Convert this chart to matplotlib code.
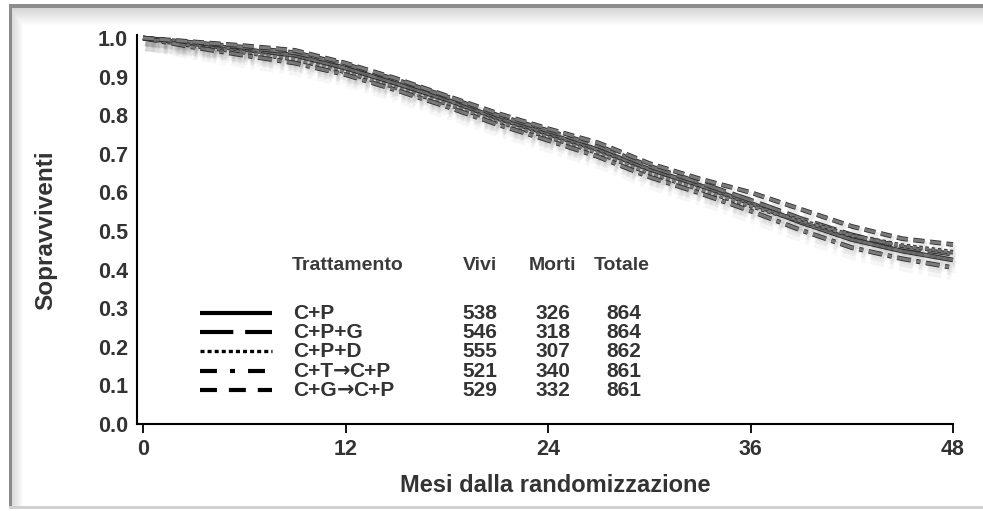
import numpy as np
import matplotlib
matplotlib.use("Agg")
import matplotlib.pyplot as plt
import matplotlib.patheffects as pe
from matplotlib.lines import Line2D

# ---------------- data ----------------
months = [0, 3, 6, 9, 12, 15, 18, 21, 24, 27, 30, 33, 36, 39, 42, 45, 48]
surv_cp   = [1.0, 0.985, 0.970, 0.955, 0.922, 0.882, 0.840, 0.792, 0.752, 0.710, 0.660, 0.618, 0.572, 0.522, 0.478, 0.448, 0.425]
surv_cpg  = [1.0, 0.988, 0.976, 0.962, 0.932, 0.892, 0.848, 0.800, 0.760, 0.720, 0.668, 0.625, 0.580, 0.532, 0.490, 0.458, 0.440]
surv_cpd  = [1.0, 0.980, 0.963, 0.945, 0.912, 0.872, 0.830, 0.784, 0.744, 0.702, 0.650, 0.608, 0.565, 0.526, 0.488, 0.462, 0.445]
surv_ctcp = [1.0, 0.976, 0.955, 0.935, 0.905, 0.865, 0.822, 0.776, 0.735, 0.692, 0.640, 0.598, 0.552, 0.502, 0.457, 0.428, 0.405]
surv_cgcp = [1.0, 0.990, 0.980, 0.968, 0.935, 0.895, 0.850, 0.805, 0.765, 0.728, 0.675, 0.635, 0.600, 0.556, 0.512, 0.480, 0.465]

treatments = [("C+P",), ("C+P+G",), ("C+P+D",), ("C+T", "\u2192", "C+P"), ("C+G", "\u2192", "C+P")]
vivi   = [538, 546, 555, 521, 529]
morti  = [326, 318, 307, 340, 332]
totale = [864, 864, 862, 861, 861]
header = ["Trattamento", "Vivi", "Morti", "Totale"]

xticks = [0, 12, 24, 36, 48]
yticks = [0.0, 0.1, 0.2, 0.3, 0.4, 0.5, 0.6, 0.7, 0.8, 0.9, 1.0]
xlabel = "Mesi dalla randomizzazione"
ylabel = "Sopravviventi"

# ---------------- style ----------------
plt.rcParams["lines.scale_dashes"] = False
W, H = 983, 511
fig = plt.figure(figsize=(W / 100, H / 100), dpi=100)
fig.patch.set_facecolor("white")

TXT = "#333333"
SANS = ["Liberation Sans", "DejaVu Sans"]

# frame background (border + soft inner shade)
bg = np.ones((H, W, 3))
for i in range(18):
    v = 0.84 + 0.16 * (i / 17.0)
    bg[8 + i, 12:, :] = np.minimum(bg[8 + i, 12:, :], v)
for i in range(12):
    v = 0.86 + 0.14 * (i / 11.0)
    bg[8:507, 12 + i, :] = np.minimum(bg[8:507, 12 + i, :], v)
bg[4:8, 9:, :] = 0.55
bg[4:508, 9:12, :] = 0.55
bg[506:509, 9:, :] = 0.82
fig.figimage(bg, xo=0, yo=0, origin="upper", zorder=-10)

def px(x, y):
    return x / W, 1 - y / H

# ---------------- axes ----------------
x0, x1 = 137, 953
y_top, y_bot = 35, 424
ax = fig.add_axes([x0 / W, (H - y_bot) / H, (x1 - x0) / W, (y_bot - y_top) / H])
ax.set_zorder(2)
ax.patch.set_visible(False)
ax.set_xlim(-0.356, 48)
ax.set_ylim(0, 1.0078)
for s in ["top", "right"]:
    ax.spines[s].set_visible(False)
for s in ["left", "bottom"]:
    ax.spines[s].set_linewidth(1.5)
    ax.spines[s].set_color("black")

ax.set_xticks(xticks)
ax.set_xticklabels([str(t) for t in xticks])
ax.set_yticks(yticks)
ax.set_yticklabels([f"{t:.1f}" for t in yticks])
ax.tick_params(axis="x", direction="out", length=6.5, width=1.3, pad=4,
               colors="black", labelcolor=TXT)
ax.tick_params(axis="y", length=0, pad=6.5, labelcolor=TXT)
for lab in ax.get_xticklabels() + ax.get_yticklabels():
    lab.set_family(SANS)
    lab.set_fontweight("bold")
    lab.set_fontsize(15.5)

series = [surv_cp, surv_cpg, surv_cpd, surv_ctcp, surv_cgcp]
curve_styles = ["-", (0, (16, 5)), (0, (2.5, 2)), (0, (10, 4, 3, 4)), (0, (8, 4))]
effects = [
    pe.SimpleLineShadow(offset=(2, -5), shadow_color="black", alpha=0.035, linewidth=9),
    pe.SimpleLineShadow(offset=(1.5, -3), shadow_color="black", alpha=0.05, linewidth=6),
    pe.Stroke(linewidth=3.4, foreground="#2e2e2e"),
    pe.Normal(),
]
for vals, ls in zip(series, curve_styles):
    ax.plot(months, vals, color="#7a7a7a", lw=2.2, linestyle=ls,
            path_effects=effects, zorder=3, solid_capstyle="butt", clip_on=False)

# axis labels
fig.text(*px(555, 486), xlabel, ha="center", va="center", fontsize=17,
         fontweight="bold", color=TXT, family=SANS)
fig.text(*px(46, 230), ylabel, ha="center", va="center", rotation=90,
         fontsize=17.5, fontweight="bold", color=TXT, family=SANS)

# ---------------- legend table ----------------
hx = [292, 480, 552, 622]
has = ["left", "center", "center", "center"]
for txt, x, ha in zip(header, hx, has):
    fig.text(*px(x, 265), txt, ha=ha, va="center", fontsize=14,
             fontweight="bold", color="#3a3a3a", family=SANS)

legend_styles = ["-", (0, (24, 8.5)), (0, (2.9, 2.2)), (0, (12.2, 9.4, 3.6, 9.4)), (0, (12.2, 8.6))]
legend_lw = [3, 3, 2.4, 3, 3]
row_y = [313, 332, 351, 371, 390]

renderer = fig.canvas.get_renderer()
for i, parts in enumerate(treatments):
    y = row_y[i]
    fx0, fy = px(200, y)
    fx1, _ = px(272, y)
    fig.add_artist(Line2D([fx0, fx1], [fy, fy], transform=fig.transFigure,
                          color="black", lw=legend_lw[i], linestyle=legend_styles[i],
                          solid_capstyle="butt", dash_capstyle="butt"))
    xcur = 293
    for part in parts:
        fam = ["DejaVu Sans"] if part == "\u2192" else SANS
        t = fig.text(*px(xcur, y), part, ha="left", va="center", fontsize=15,
                     fontweight="bold", color=TXT, family=fam)
        bb = t.get_window_extent(renderer=renderer)
        xcur = bb.x1 + (-1 if part == "\u2192" else 0)
    fig.text(*px(480, y), str(vivi[i]), ha="center", va="center", fontsize=15,
             fontweight="bold", color=TXT, family=SANS)
    fig.text(*px(553, y), str(morti[i]), ha="center", va="center", fontsize=15,
             fontweight="bold", color=TXT, family=SANS)
    fig.text(*px(624, y), str(totale[i]), ha="center", va="center", fontsize=15,
             fontweight="bold", color=TXT, family=SANS)

fig.savefig("out.png", dpi=100, facecolor="white")
